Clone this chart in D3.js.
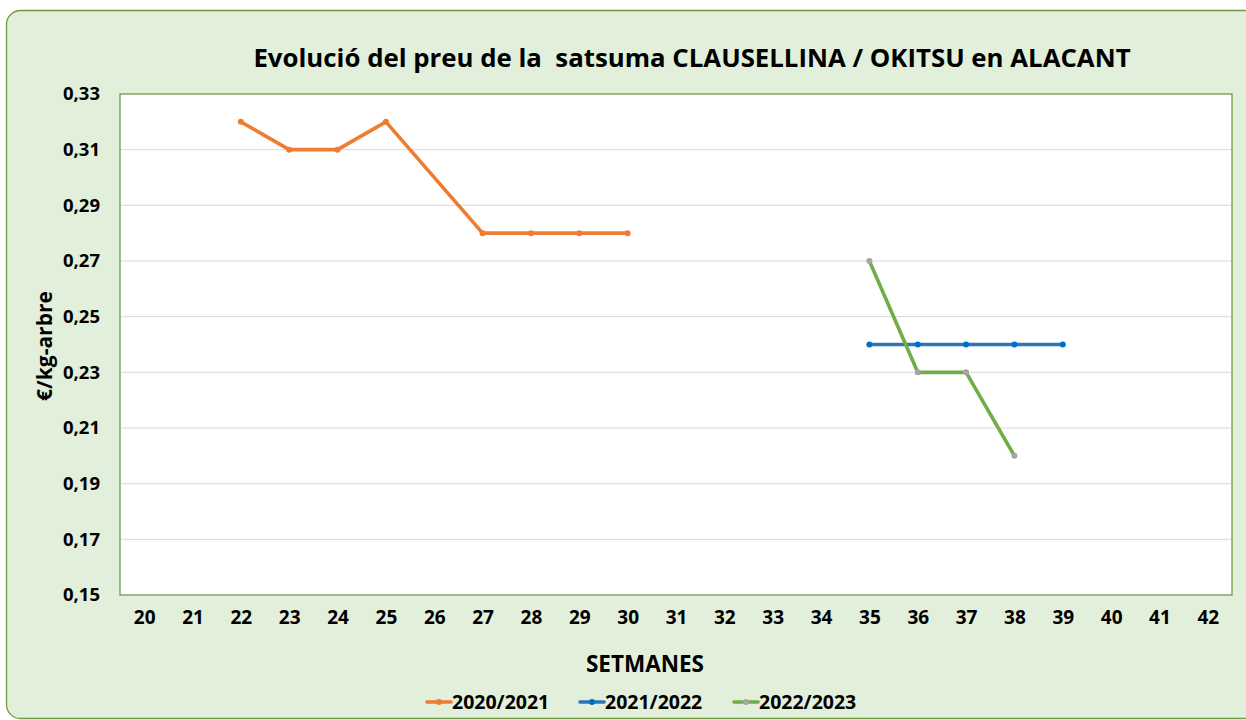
<!DOCTYPE html>
<html>
<head>
<meta charset="utf-8">
<script src="https://cdn.jsdelivr.net/npm/d3@7"></script>
<style>
  html, body { margin: 0; padding: 0; background: #fff; }
  svg { display: block; font-family: "Open Sans", Lato, sans-serif; }
</style>
</head>
<body>
<svg id="chart" width="1246" height="720"></svg>
<script>
// ── 데이터 ──────────────────────────────────────
const weeks = d3.range(20, 43);
const yTicks = [0.15, 0.17, 0.19, 0.21, 0.23, 0.25, 0.27, 0.29, 0.31, 0.33];

// 시즌별 [주차, 가격]
const season2020 = [[22, 0.32], [23, 0.31], [24, 0.31], [25, 0.32], [27, 0.28], [28, 0.28], [29, 0.28], [30, 0.28]];
const season2021 = [[35, 0.24], [36, 0.24], [37, 0.24], [38, 0.24], [39, 0.24]];
const season2022 = [[35, 0.27], [36, 0.23], [37, 0.23], [38, 0.20]];

const seriesNames = ["2020/2021", "2021/2022", "2022/2023"];
const seriesData = [season2020, season2021, season2022];

// [선 색, 마커 색]
const COLORS = [["#ed7d31", "#ed7d31"], ["#2e75b6", "#0070c0"], ["#70ad47", "#a5a5a5"]];

// ── 레이아웃 ─────────────────────────────────────
const svg = d3.select("#chart");
const plot = { left: 120, right: 1232, top: 94, bottom: 595 };

// 배경 박스
svg.append("rect")
  .attr("x", 6.5).attr("y", 10.5)
  .attr("width", 1252).attr("height", 708)
  .attr("rx", 14)
  .attr("fill", "#e2efda")
  .attr("stroke", "#6f9b45").attr("stroke-width", 1.3);

// 플롯 영역
svg.append("rect")
  .attr("x", plot.left).attr("y", plot.top)
  .attr("width", plot.right - plot.left).attr("height", plot.bottom - plot.top)
  .attr("fill", "#fff")
  .attr("stroke", "#6f9b45").attr("stroke-width", 1.3);

const x = d3.scalePoint().domain(weeks).range([plot.left, plot.right]).padding(0.5);
const y = d3.scaleLinear().domain([0.15, 0.33]).range([plot.bottom, plot.top]);

// 격자선
svg.append("g").selectAll("line")
  .data(yTicks.slice(1, -1))
  .join("line")
  .attr("x1", plot.left + 1).attr("x2", plot.right - 1)
  .attr("y1", d => y(d)).attr("y2", d => y(d))
  .attr("stroke", "#d9d9d9").attr("stroke-width", 1);

// Y축 라벨
const fmt = d => d.toFixed(2).replace(".", ",");
const yAxis = d3.axisLeft(y).tickValues(yTicks).tickFormat(fmt).tickSize(0).tickPadding(20);
svg.append("g")
  .attr("transform", `translate(${plot.left},0)`)
  .call(yAxis)
  .call(g => g.select(".domain").remove())
  .selectAll("text")
  .attr("font-size", 18.5).attr("font-weight", "bold").attr("fill", "#000")
  .attr("font-family", "'Open Sans', sans-serif");

// X축 라벨
const xAxis = d3.axisBottom(x).tickSize(0).tickPadding(16);
svg.append("g")
  .attr("transform", `translate(0,${plot.bottom})`)
  .call(xAxis)
  .call(g => g.select(".domain").remove())
  .selectAll("text")
  .attr("font-size", 19).attr("font-weight", "bold").attr("fill", "#000")
  .attr("font-family", "'Open Sans', sans-serif");

// 선 + 마커
const line = d3.line().x(d => x(d[0])).y(d => y(d[1]));
seriesData.forEach((data, i) => {
  svg.append("path")
    .datum(data)
    .attr("d", line)
    .attr("fill", "none")
    .attr("stroke", COLORS[i][0])
    .attr("stroke-width", 3.6)
    .attr("stroke-linejoin", "round");
  svg.append("g").selectAll("circle")
    .data(data)
    .join("circle")
    .attr("cx", d => x(d[0])).attr("cy", d => y(d[1]))
    .attr("r", 3)
    .attr("fill", COLORS[i][1]);
});

// 제목
svg.append("text")
  .attr("x", 692).attr("y", 67)
  .attr("text-anchor", "middle")
  .attr("font-size", 25.8).attr("font-weight", "bold")
  .attr("xml:space", "preserve")
  .text("Evolució del preu de la  satsuma CLAUSELLINA / OKITSU en ALACANT");

// 축 제목
svg.append("text")
  .attr("transform", "translate(52,346) rotate(-90)")
  .attr("text-anchor", "middle")
  .attr("font-size", 21).attr("font-weight", "bold")
  .text("€/kg-arbre");

svg.append("text")
  .attr("x", 645).attr("y", 672)
  .attr("text-anchor", "middle")
  .attr("font-size", 22.5).attr("font-weight", "bold")
  .text("SETMANES");

// 범례
const legendX = [427, 580, 734];
const legend = svg.append("g").selectAll("g")
  .data(seriesNames)
  .join("g")
  .attr("transform", (d, i) => `translate(${legendX[i]},702)`);
legend.append("line")
  .attr("x1", 0).attr("x2", 24)
  .attr("stroke", (d, i) => COLORS[i][0])
  .attr("stroke-width", 3.6).attr("stroke-linecap", "round");
legend.append("circle")
  .attr("cx", 12).attr("r", 3)
  .attr("fill", (d, i) => COLORS[i][1]);
legend.append("text")
  .attr("x", 25).attr("y", 7)
  .attr("font-size", 19.5).attr("font-weight", "bold")
  .text(d => d);
</script>
</body>
</html>
